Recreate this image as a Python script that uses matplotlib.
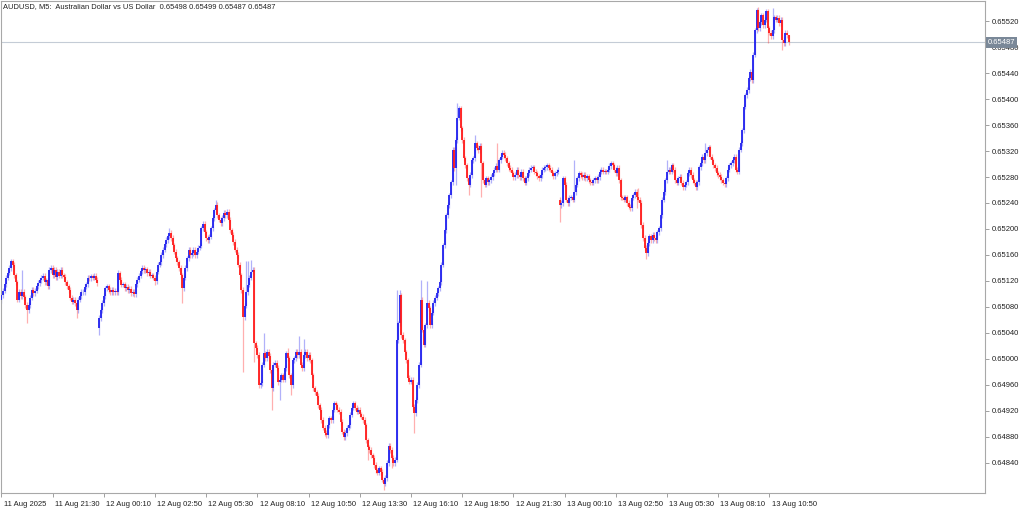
import matplotlib
matplotlib.use("Agg")
import matplotlib.pyplot as plt
import matplotlib.transforms as mtransforms
import numpy as np

plt.rcParams['font.family'] = ['Liberation Sans', 'DejaVu Sans']

# AUDUSD M5 closes, in points above 0.60000 (1 pt = 0.00001)
close_pts = [
    5098, 5105, 5115, 5125, 5133, 5140, 5150, 5145, 5129, 5118,
    5091, 5103, 5097, 5103, 5095, 5083, 5075, 5083, 5094, 5106,
    5101, 5105, 5112, 5117, 5121, 5125, 5128, 5118, 5121, 5112,
    5137, 5140, 5129, 5137, 5126, 5134, 5128, 5137, 5129, 5126,
    5118, 5112, 5106, 5094, 5088, 5091, 5086, 5075, 5091, 5097,
    5103, 5103, 5111, 5115, 5125, 5124, 5127, 5125, 5128, 5122,
    5117, 5063, 5075, 5086, 5097, 5109, 5112, 5106, 5103, 5106,
    5103, 5105, 5103, 5132, 5122, 5114, 5115, 5109, 5111, 5106,
    5108, 5101, 5103, 5100, 5115, 5122, 5128, 5135, 5140, 5137,
    5138, 5132, 5134, 5128, 5129, 5125, 5120, 5134, 5145, 5149,
    5160, 5168, 5177, 5183, 5189, 5194, 5186, 5175, 5165, 5155,
    5149, 5140, 5129, 5109, 5125, 5140, 5155, 5168, 5160, 5163,
    5168, 5160, 5165, 5171, 5174, 5201, 5208, 5195, 5186, 5183,
    5188, 5201, 5217, 5229, 5237, 5221, 5214, 5209, 5217, 5225,
    5221, 5226, 5214, 5198, 5191, 5180, 5168, 5160, 5145, 5129,
    5106, 5064, 5082, 5103, 5114, 5125, 5134, 5137, 5024, 5017,
    5006, 4960, 4963, 4991, 5009, 5001, 5011, 5005, 4983, 4955,
    4991, 4994, 4986, 4964, 4968, 4975, 4968, 4986, 5009, 5001,
    4975, 4960, 4998, 5001, 5011, 5006, 5011, 4991, 4986, 5006,
    5011, 5001, 5006, 4998, 4975, 4955, 4949, 4943, 4929, 4922,
    4906, 4894, 4886, 4883, 4898, 4909, 4906, 4922, 4932, 4929,
    4922, 4919, 4903, 4888, 4880, 4886, 4894, 4898, 4914, 4925,
    4932, 4925, 4919, 4922, 4915, 4911, 4906, 4898, 4875, 4864,
    4860, 4852, 4848, 4837, 4829, 4825, 4832, 4826, 4814, 4808,
    4817, 4840, 4866, 4860, 4848, 4840, 4845, 5029, 5055, 5098,
    5037, 5029, 5010, 4998, 4971, 4965, 4968, 4926, 4917, 4937,
    4960, 4991, 5091, 5045, 5022, 5052, 5086, 5078, 5052, 5071,
    5086, 5094, 5101, 5109, 5118, 5145, 5175, 5198, 5221, 5237,
    5252, 5272, 5322, 5294, 5337, 5371, 5386, 5355, 5337, 5309,
    5298, 5278, 5268, 5283, 5306, 5309, 5332, 5325, 5321, 5328,
    5301, 5275, 5268, 5278, 5272, 5275, 5280, 5286, 5291, 5297,
    5291, 5306, 5311, 5317, 5314, 5309, 5301, 5294, 5291, 5286,
    5280, 5283, 5291, 5283, 5280, 5288, 5278, 5271, 5278, 5286,
    5291, 5294, 5295, 5288, 5286, 5281, 5278, 5283, 5291, 5294,
    5295, 5298, 5294, 5291, 5286, 5281, 5286, 5288, 5291, 5237,
    5240, 5278, 5268, 5245, 5240, 5248, 5249, 5245, 5257, 5268,
    5278, 5286, 5283, 5280, 5283, 5278, 5281, 5275, 5272, 5271,
    5275, 5278, 5275, 5280, 5288, 5291, 5288, 5289, 5288, 5291,
    5297, 5301, 5298, 5291, 5286, 5294, 5275, 5249, 5248, 5245,
    5249, 5240, 5234, 5232, 5248, 5252, 5257, 5249, 5245, 5240,
    5206, 5186, 5171, 5163, 5178, 5189, 5183, 5191, 5186, 5183,
    5195, 5201, 5221, 5245, 5257, 5275, 5288, 5291, 5288, 5298,
    5291, 5275, 5271, 5278, 5280, 5271, 5264, 5268, 5272, 5286,
    5291, 5283, 5275, 5271, 5264, 5272, 5295, 5301, 5311, 5306,
    5317, 5322, 5326, 5311, 5306, 5298, 5294, 5286, 5283, 5280,
    5275, 5271, 5269, 5278, 5291, 5298, 5301, 5306, 5311, 5291,
    5288, 5322, 5332, 5352, 5388, 5406, 5414, 5432, 5442, 5429,
    5468, 5506, 5537, 5509, 5518, 5529, 5514, 5522, 5535, 5509,
    5502, 5497, 5506, 5526, 5522, 5525, 5517, 5522, 5491, 5486,
    5502, 5498, 5487,
]

# opens that differ from the previous close (gaps)
gap_open = {0: 5090, 61: 5048, 349: 5245}

# notable wick extremes (points)
high_pts = {13: 5137, 73: 5137, 105: 5201, 134: 5245, 153: 5150, 154: 5150,
            156: 5152, 164: 5040, 179: 5017, 186: 5035, 189: 5030,
            247: 5106, 249: 5106, 262: 5122, 266: 5120, 285: 5394,
            296: 5345, 310: 5332, 358: 5306, 398: 5263, 416: 5306,
            440: 5332, 472: 5540, 482: 5540, 492: 5499}
low_pts = {16: 5055, 47: 5063, 61: 5037, 96: 5114, 113: 5086, 151: 4980,
           158: 4995, 169: 4922, 174: 4937, 181: 4945, 229: 4845,
           239: 4798, 244: 4832, 258: 4886, 284: 5268, 292: 5252,
           300: 5249, 349: 5211, 397: 5232, 403: 5154, 479: 5486,
           488: 5475}
base_wick = 4

time_labels = ["11 Aug 2025", "11 Aug 21:30", "12 Aug 00:10", "12 Aug 02:50",
               "12 Aug 05:30", "12 Aug 08:10", "12 Aug 10:50", "12 Aug 13:30",
               "12 Aug 16:10", "12 Aug 18:50", "12 Aug 21:30", "13 Aug 00:10",
               "13 Aug 02:50", "13 Aug 05:30", "13 Aug 08:10", "13 Aug 10:50"]
bars_per_label = 32

price_ticks = [0.64840, 0.64880, 0.64920, 0.64960, 0.65000, 0.65040, 0.65080,
               0.65120, 0.65160, 0.65200, 0.65240, 0.65280, 0.65320, 0.65360,
               0.65400, 0.65440, 0.65480, 0.65520]
last_price = 0.65487
title = "AUDUSD, M5:  Australian Dollar vs US Dollar  0.65498 0.65499 0.65487 0.65487"

# build OHLC
close = np.array(close_pts, dtype=float)
opn = np.r_[close[0], close[:-1]]
for i, v in gap_open.items():
    opn[i] = v
top = np.maximum(opn, close)
bot = np.minimum(opn, close)
hi = top + base_wick
lo = bot - base_wick
for i, v in high_pts.items():
    hi[i] = max(v, top[i])
for i, v in low_pts.items():
    lo[i] = min(v, bot[i])

to_price = lambda p: 0.6 + p * 1e-5
x = np.arange(len(close))
up = close >= opn
cols = np.where(up, '#2020ee', '#ff1a1a')

fig = plt.figure(figsize=(10.24, 5.11), dpi=100)
ax = fig.add_axes([1 / 1024, 18 / 511, 984 / 1024, 492 / 511])

ax.axhline(last_price, color='#c4ccd6', lw=0.8, zorder=1)
ax.vlines(x, to_price(lo), to_price(hi), colors=cols, lw=0.9, alpha=0.35, zorder=2)
ax.vlines(x, to_price(bot), to_price(top), colors=cols, lw=1.3, zorder=3)

ax.set_xlim(-0.31, 614.7)
ax.set_ylim(0.647938, 0.655508)

for s in ax.spines.values():
    s.set_color('#a8a8a8')
    s.set_linewidth(0.8)

ax.yaxis.tick_right()
ax.set_yticks(price_ticks)
ax.set_yticklabels([f"{p:.5f}" for p in price_ticks])
ax.tick_params(axis='y', direction='out', length=3, width=0.6, color='#909090',
               labelsize=5.5, pad=1.5, labelcolor='#202020')

ax.set_xticks(np.arange(len(time_labels)) * bars_per_label)
ax.set_xticklabels(time_labels)
ax.tick_params(axis='x', direction='out', length=3, width=0.6, color='#909090',
               labelsize=5.5, pad=3, labelcolor='#202020')
offset = mtransforms.ScaledTranslation(1.5 / 72, 0, fig.dpi_scale_trans)
for lab in ax.get_xticklabels():
    lab.set_ha('left')
    lab.set_transform(lab.get_transform() + offset)

ax.text(0.002, 0.995, title, transform=ax.transAxes, fontsize=5.4,
        va='top', ha='left', color='#202020')

trans = mtransforms.blended_transform_factory(ax.transAxes, ax.transData)
ax.text(1.003, last_price, f"{last_price:.5f}", transform=trans, fontsize=5.5,
        va='center', ha='left', color='white', clip_on=False, zorder=5,
        bbox=dict(boxstyle='square,pad=0.25', fc='#7a8898', ec='none'))

fig.savefig("out.png", dpi=100)
